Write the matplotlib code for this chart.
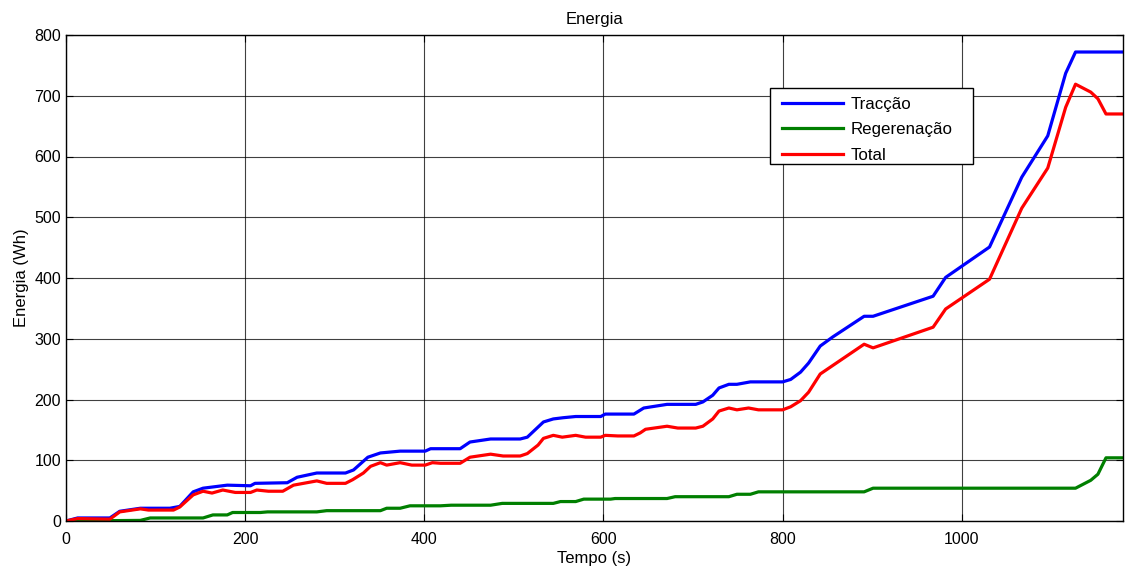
import matplotlib
matplotlib.use("Agg")
import matplotlib.pyplot as plt
from matplotlib.patches import Rectangle

plt.rcParams['font.family'] = ['Liberation Sans', 'DejaVu Sans']

# Tracção
t_trac = [0, 13, 49, 60, 83, 116, 127, 142, 153, 180, 206, 211, 247, 258, 280, 312, 321, 337, 351,
          373, 401, 407, 440, 451, 474, 507, 515, 533, 544, 555, 569, 597, 602, 634, 645, 671, 703,
          711, 722, 729, 740, 749, 764, 800, 809, 820, 829, 842, 856, 891, 901, 968, 982, 1031,
          1046, 1067, 1096, 1116, 1127, 1180]
v_trac = [0, 5, 5, 16, 21, 21, 24, 48, 54, 59, 58, 62, 63, 72, 79, 79, 84, 105, 112,
          115, 115, 119, 119, 130, 135, 135, 138, 163, 168, 170, 172, 172, 176, 176, 186, 192, 192,
          196, 207, 219, 225, 225, 229, 229, 233, 245, 260, 288, 303, 337, 337, 370, 401, 451,
          499, 566, 634, 737, 772, 772]

# Regeneração
t_reg = [0, 83, 94, 153, 164, 180, 186, 217, 225, 280, 291, 351, 358, 373, 384, 418, 430, 474,
         487, 544, 552, 569, 578, 608, 613, 671, 680, 740, 749, 764, 773, 891, 901, 1127, 1144,
         1152, 1161, 1180]
v_reg = [0, 1, 5, 5, 10, 10, 14, 14, 15, 15, 17, 17, 21, 21, 25, 25, 26, 26,
         29, 29, 32, 32, 36, 36, 37, 37, 40, 40, 44, 44, 48, 48, 54, 54, 67,
         77, 104, 104]

# Total
t_tot = [0, 13, 49, 60, 83, 92, 120, 127, 142, 153, 163, 175, 189, 206, 213, 226, 242, 254, 280,
         291, 312, 320, 332, 340, 351, 358, 373, 386, 401, 409, 418, 440, 451, 474, 488, 507, 515,
         527, 533, 544, 554, 569, 580, 597, 602, 616, 634, 641, 647, 671, 683, 703, 711, 722, 729,
         740, 749, 762, 773, 800, 809, 820, 829, 842, 891, 901, 968, 982, 1031, 1067, 1096, 1116,
         1127, 1144, 1152, 1161, 1180]
v_tot = [0, 4, 3, 15, 20, 18, 18, 23, 43, 49, 46, 51, 47, 47, 51, 49, 49, 59, 66,
         62, 62, 68, 79, 90, 96, 92, 96, 92, 92, 96, 95, 95, 105, 110, 107, 107, 111,
         125, 136, 141, 138, 141, 138, 138, 141, 140, 140, 145, 151, 156, 153, 153, 156, 168, 181,
         186, 183, 186, 183, 183, 188, 198, 212, 242, 291, 285, 319, 349, 398, 515, 581, 681,
         719, 706, 695, 670, 670]

xticks = [0, 200, 400, 600, 800, 1000]
yticks = [0, 100, 200, 300, 400, 500, 600, 700, 800]

fig = plt.figure(figsize=(11.29, 5.73), dpi=100)
ax = fig.add_axes([66/1129, 52/573, 1057/1129, 486/573])

ax.plot(t_trac, v_trac, color='#0000ff', lw=2.3, label='Tracção')
ax.plot(t_reg, v_reg, color='#007f00', lw=2.3, label='Regerenação')
ax.plot(t_tot, v_tot, color='#ff0000', lw=2.3, label='Total')

ax.set_xlim(0, 1180)
ax.set_ylim(0, 800)
ax.set_xticks(xticks)
ax.set_yticks(yticks)
ax.grid(True, color='black', lw=0.8, alpha=0.75)
ax.tick_params(direction='in', top=True, right=True, labelsize=11.5, length=5)
ax.tick_params(axis='x', pad=8)
for s in ax.spines.values():
    s.set_linewidth(1.0)

ax.set_title('Energia', fontsize=12, pad=8)
ax.set_xlabel('Tempo (s)', fontsize=12, labelpad=3)
ax.set_ylabel('Energia (Wh)', fontsize=12, labelpad=4)

# legend frame (MATLAB style, wider on the right)
frame = Rectangle((0.666, 0.7346), 0.192, 0.1564, transform=ax.transAxes,
                  facecolor='white', edgecolor='black', lw=1.0, zorder=5)
ax.add_patch(frame)
leg = ax.legend(loc='upper left', bbox_to_anchor=(0.670, 0.889), fontsize=12.2,
                frameon=False, handlelength=3.6,
                borderpad=0.45, labelspacing=0.62, handletextpad=0.45, borderaxespad=0)
leg.set_zorder(6)

fig.savefig('out.png', dpi=100)
